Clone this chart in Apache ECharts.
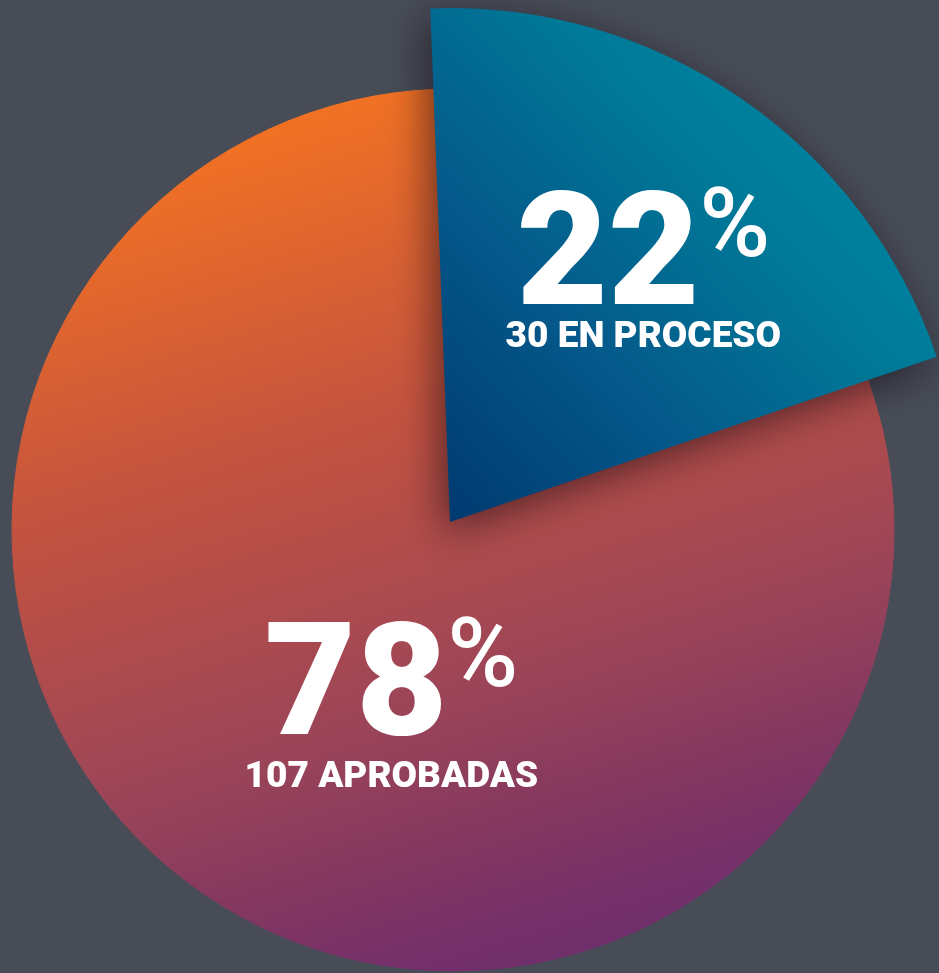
<!DOCTYPE html>
<html>
<head>
<meta charset="utf-8">
<script src="https://cdn.jsdelivr.net/npm/echarts@6/dist/echarts.min.js"></script>
<style>
  html, body { margin: 0; padding: 0; background: #474C57; }
  #chart { width: 939px; height: 973px; }
</style>
</head>
<body>
<div id="chart"></div>
<script>
// ---- data ----
const categories = ['30 EN PROCESO', '107 APROBADAS'];
const counts = [30, 107];

const FONT = 'Roboto';

const orangeFill = {
  type: 'linear', global: true, x: 330, y: 90, x2: 600, y2: 970,
  colorStops: [
    { offset: 0, color: '#F47322' },
    { offset: 0.35, color: '#C4533F' },
    { offset: 0.68, color: '#9A4459' },
    { offset: 0.8, color: '#87395E' },
    { offset: 0.93, color: '#75306A' },
    { offset: 1, color: '#6C2D6A' }
  ]
};
const blueFill = {
  type: 'linear', global: true, x: 450, y: 522, x2: 900, y2: 100,
  colorStops: [
    { offset: 0, color: '#003A70' },
    { offset: 0.35, color: '#04588A' },
    { offset: 0.7, color: '#007A98' },
    { offset: 1, color: '#0088A5' }
  ]
};

function makeRich(numLH, raise) {
  return {
    num: { fontFamily: FONT, fontWeight: 900, fontSize: 158, color: '#fff', lineHeight: numLH },
    pct: { fontFamily: FONT, fontWeight: 500, fontSize: 96, color: '#fff', lineHeight: 20,
           verticalAlign: 'bottom', padding: [0, 0, raise, 0] },
    sub: { fontFamily: FONT, fontWeight: 900, fontSize: 37, color: '#fff', lineHeight: 44 }
  };
}
const fmt = p => '{num|' + Math.round(p.percent) + '}{pct|%}\n{sub|' + p.name + '}';

const chart = echarts.init(document.getElementById('chart'), null, { renderer: 'canvas' });
chart.setOption({
  backgroundColor: '#474C57',
  animation: false,
  series: [
    {
      type: 'pie', silent: true,
      center: [453, 530], radius: 441,
      startAngle: 94.9, clockwise: true,
      itemStyle: { color: orangeFill, borderColor: orangeFill, borderWidth: 1 },
      label: { show: true, position: 'inside', formatter: fmt, rich: makeRich(124, 46), align: 'center' },
      labelLine: { show: false },
      labelLayout: { dx: 65, dy: 2 },
      emphasis: { disabled: true },
      data: categories.map((c, i) => ({
        name: c, value: counts[i],
        label: { show: i === 1 }
      }))
    },
    {
      type: 'pie', silent: true,
      center: [450, 522], radius: 514,
      startAngle: 94.9, clockwise: true, padAngle: 5.4,
      label: { show: true, position: 'inside', formatter: fmt, rich: makeRich(102, 36), align: 'center' },
      labelLine: { show: false },
      labelLayout: { dx: 46, dy: -21 },
      emphasis: { disabled: true },
      data: categories.map((c, i) => ({
        name: c, value: counts[i],
        itemStyle: i === 0
          ? { color: blueFill, shadowBlur: 40, shadowColor: 'rgba(20,10,20,0.6)', shadowOffsetX: -6, shadowOffsetY: 10 }
          : { color: 'rgba(0,0,0,0)' },
        label: { show: i === 0 }
      }))
    }
  ]
});
</script>
</body>
</html>
